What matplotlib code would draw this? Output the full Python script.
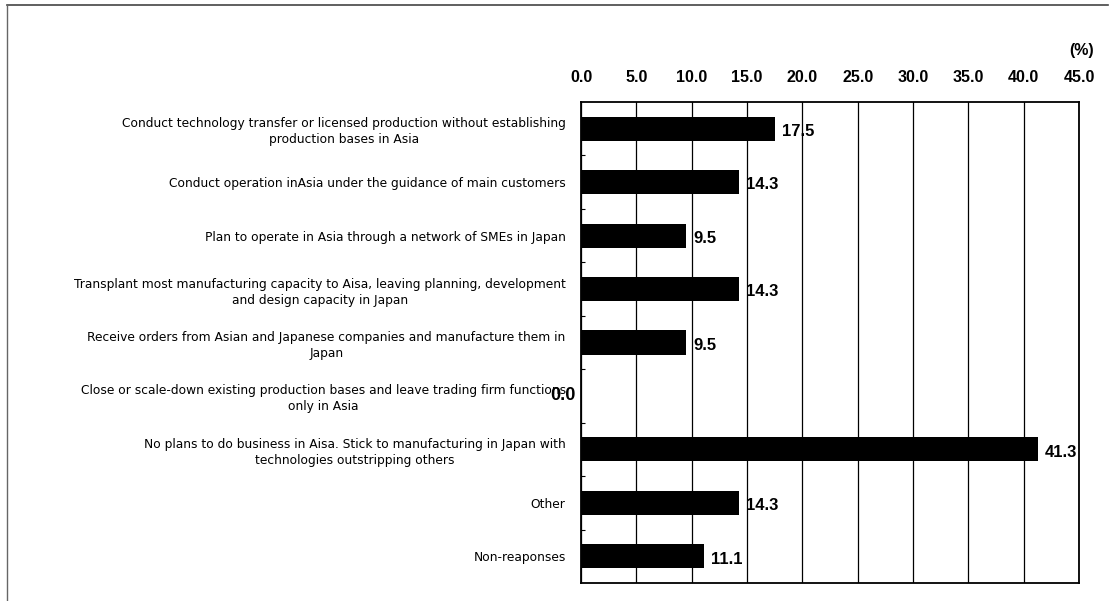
import matplotlib
matplotlib.use("Agg")
import matplotlib.pyplot as plt
from matplotlib.lines import Line2D

# Survey answers, top to bottom
categories = [
    "Conduct technology transfer or licensed production without establishing\nproduction bases in Asia",
    "Conduct operation inAsia under the guidance of main customers",
    "Plan to operate in Asia through a network of SMEs in Japan",
    "Transplant most manufacturing capacity to Aisa, leaving planning, development\nand design capacity in Japan",
    "Receive orders from Asian and Japanese companies and manufacture them in\nJapan",
    "Close or scale-down existing production bases and leave trading firm functions\nonly in Asia",
    "No plans to do business in Aisa. Stick to manufacturing in Japan with\ntechnologies outstripping others",
    "Other",
    "Non-reaponses",
]
shares = [17.5, 14.3, 9.5, 14.3, 9.5, 0.0, 41.3, 14.3, 11.1]
x_ticks = [0, 5, 10, 15, 20, 25, 30, 35, 40, 45]

label_font = "DejaVu Sans"
num_font = "Liberation Sans"

fig = plt.figure(figsize=(11.09, 6.01), dpi=100)
ax = fig.add_axes([0.5239, 0.030, 0.4491, 0.8003])

y = list(range(len(categories)))
ax.barh(y, shares, height=0.45, color="black", zorder=3)

ax.set_xlim(0, 45)
ax.set_ylim(len(categories) - 0.5, -0.5)

ax.xaxis.tick_top()
ax.set_xticks(x_ticks)
ax.set_xticklabels([f"{t:.1f}" for t in x_ticks], fontsize=11.5, fontweight="bold",
                   family=num_font)
ax.tick_params(axis="x", length=0, pad=12)
ax.grid(axis="x", color="black", linewidth=0.9, zorder=1)

ax.set_yticks(y)
ax.set_yticklabels(categories, fontsize=8.8, family=label_font,
                   multialignment="center", linespacing=1.3)
ax.tick_params(axis="y", length=0, pad=11)
# small marks between categories on the left spine
ax.set_yticks([i + 0.5 for i in y[:-1]], minor=True)
ax.tick_params(axis="y", which="minor", length=3, width=0.8, direction="in")

for s in ax.spines.values():
    s.set_linewidth(1.3)
    s.set_color("black")

for yi, v in zip(y, shares):
    if v == 0:
        ax.annotate(f"{v:.1f}", (0, yi), xytext=(-4, 0), textcoords="offset points",
                    ha="right", va="center", fontsize=13, fontweight="bold",
                    family=num_font)
    else:
        ax.annotate(f"{v:.1f}", (v, yi), xytext=(5, -2), textcoords="offset points",
                    ha="left", va="center", fontsize=12, fontweight="bold",
                    family=num_font)

fig.text(1082 / 1109, 1 - 50 / 601, "(%)", ha="center", va="center",
         fontsize=11.5, fontweight="bold", family=num_font)

# outer frame (top and left edges)
fig.add_artist(Line2D([7 / 1109, 1108 / 1109], [1 - 5 / 601, 1 - 5 / 601],
                      transform=fig.transFigure, color="#444444", linewidth=1.2))
fig.add_artist(Line2D([7 / 1109, 7 / 1109], [1 - 5 / 601, 0],
                      transform=fig.transFigure, color="#666666", linewidth=1.0))

fig.savefig("out.png", dpi=100)
